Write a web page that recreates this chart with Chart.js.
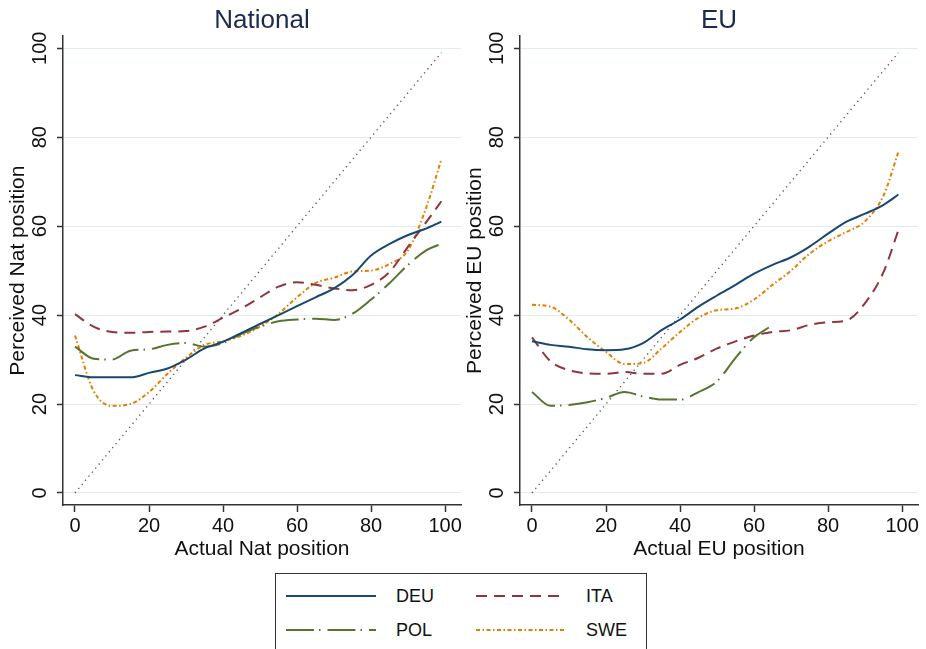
<!DOCTYPE html>
<html>
<head>
<meta charset="utf-8">
<script src="https://cdn.jsdelivr.net/npm/chart.js@4.4.1/dist/chart.umd.min.js"></script>
<style>
  body { margin: 0; background: #fff; width: 926px; height: 649px; overflow: hidden; position: relative;
         font-family: "Liberation Sans", Arial, sans-serif; }
  canvas.panel { position: absolute; top: 0; }
  #legend { position: absolute; left: 275px; top: 573px; width: 372px; height: 100px;
            border: 1px solid #333; box-sizing: border-box; }
  #legend svg { position: absolute; }
  #legend span { position: absolute; font-size: 18px; color: #111; line-height: 20px; }
</style>
</head>
<body>
<canvas id="natChart" class="panel" width="463" height="565" style="left:0"></canvas>
<canvas id="euChart" class="panel" width="463" height="565" style="left:457px"></canvas>
<div id="legend"></div>

<script>
// tick labels
const xTicks = [0, 20, 40, 60, 80, 100];
const yTicks = [0, 20, 40, 60, 80, 100];
const countries = ['DEU', 'ITA', 'POL', 'SWE'];

// National panel
const natX   = [0, 5, 10, 15, 20, 25, 30, 35, 40, 45, 50, 55, 60, 65, 70, 75, 80, 85, 90, 95, 99];
const natDEU = [26.5, 26, 26, 26, 27, 28, 30, 32.5, 34, 36, 38, 40, 42, 44, 46, 49, 53.4, 56, 58, 59.5, 61];
const natITA = [40.2, 37.4, 36.2, 36, 36.2, 36.3, 36.4, 37.4, 39.4, 41.5, 44, 46.4, 47.4, 46.8, 46, 45.6, 46.8, 49.7, 55.4, 61, 65.6];
const natPOL = [32.9, 30.2, 30, 32, 32.3, 33.3, 33.7, 32.9, 33.7, 35.8, 37.4, 38.6, 39, 39.2, 38.9, 40.3, 43.5, 47.2, 51.3, 54.6, 56];
const natSWE = [35.4, 23, 19.6, 20, 22.7, 26.8, 30.4, 33.3, 34.1, 35.4, 37.4, 40.3, 44, 47.2, 48.4, 49.8, 50, 51.5, 54.6, 64.4, 75];

// EU panel
const euX    = [0, 5, 10, 15, 20, 25, 30, 35, 40, 45, 50, 55, 60, 65, 70, 75, 80, 85, 90, 95, 99];
const euDEU  = [34.1, 33.3, 32.9, 32.3, 32.1, 32.3, 33.7, 36.6, 39, 41.9, 44.4, 46.8, 49.3, 51.3, 53, 55.4, 58.3, 61, 62.8, 64.8, 67.1];
const euITA  = [35, 29.6, 27.6, 26.9, 26.8, 27.2, 26.8, 26.8, 28.8, 30.4, 32.5, 34.1, 35.4, 36.2, 36.6, 37.8, 38.4, 38.8, 42.7, 49.7, 59.1];
const euPOLX = [0, 5, 10, 15, 20, 25, 30, 35, 40, 45, 50, 55, 60, 64];
const euPOL  = [22.7, 19.6, 19.8, 20.4, 21.4, 22.7, 21.7, 21, 21, 22.7, 25.1, 30.4, 35, 37.2];
const euSWE  = [42.3, 41.9, 39, 35, 31.7, 29, 29.2, 32.5, 36.2, 39.4, 41.1, 41.5, 43.5, 46.8, 50, 53.8, 56.6, 58.7, 61.1, 66.9, 76.7];

// 45 degree reference line
const diagX = [0, 99];

const lineStyles = {
    DEU: { color: '#1a476f', dash: [] },
    ITA: { color: '#90353b', dash: [11, 7] },
    POL: { color: '#55752f', dash: [28, 5, 1.5, 7] },
    SWE: { color: '#e37e00', dash: [4, 2.5, 1.5, 2.5] }
};

function toPoints(xs, ys) {
    return xs.map((x, i) => ({ x: x, y: ys[i] }));
}

function curve(name, xs, ys) {
    return {
        label: name,
        data: toPoints(xs, ys),
        borderColor: lineStyles[name].color,
        borderDash: lineStyles[name].dash,
        borderWidth: 2,
        pointRadius: 0,
        cubicInterpolationMode: 'monotone',
        fill: false
    };
}

function makePanel(id, title, xTitle, yTitle, series) {
    const datasets = series.map(s => curve(s[0], s[1], s[2]));
    datasets.push({
        label: 'diag',
        data: toPoints(diagX, diagX),
        borderColor: '#555',
        borderDash: [1.3, 4],
        borderWidth: 1.3,
        pointRadius: 0,
        fill: false
    });

    const axisColor = '#333';
    return new Chart(document.getElementById(id).getContext('2d'), {
        type: 'line',
        data: { datasets: datasets },
        options: {
            responsive: false,
            animation: false,
            layout: { padding: { left: 0, right: 2, top: 0, bottom: 0 } },
            plugins: {
                legend: { display: false },
                tooltip: { enabled: false },
                title: {
                    display: true,
                    text: title,
                    fullSize: false,
                    color: '#1b2a4e',
                    font: { family: 'Liberation Sans', size: 26, weight: 'normal' },
                    padding: { top: 5, bottom: 0 }
                }
            },
            scales: {
                x: {
                    type: 'linear',
                    min: -3.24,
                    max: 104.3,
                    afterBuildTicks: s => { s.ticks = xTicks.map(v => ({ value: v })); },
                    afterFit: s => { s.height = 60; s.paddingLeft = 0; s.paddingRight = 0; },
                    ticks: {
                        color: '#111',
                        padding: 2,
                        maxRotation: 0,
                        autoSkip: false,
                        font: { family: 'Liberation Sans', size: 20 }
                    },
                    grid: { drawOnChartArea: false, tickLength: 7, tickColor: axisColor, tickWidth: 1.5 },
                    border: { color: axisColor, width: 1.5 },
                    title: {
                        display: true,
                        text: xTitle,
                        color: '#111',
                        font: { family: 'Liberation Sans', size: 21 },
                        padding: { top: 0, bottom: 3 }
                    }
                },
                y: {
                    type: 'linear',
                    min: -2.7,
                    max: 102.7,
                    afterBuildTicks: s => { s.ticks = yTicks.map(v => ({ value: v })); },
                    afterFit: s => { s.width = 63; s.paddingTop = 0; s.paddingBottom = 0; },
                    ticks: {
                        color: '#111',
                        padding: 0,
                        minRotation: 90,
                        maxRotation: 90,
                        crossAlign: 'center',
                        font: { family: 'Liberation Sans', size: 20 }
                    },
                    grid: { color: '#e1ecec', lineWidth: 1, tickLength: 6, tickColor: axisColor, tickWidth: 1.5 },
                    border: { color: axisColor, width: 1.5 },
                    title: {
                        display: true,
                        text: yTitle,
                        color: '#111',
                        font: { family: 'Liberation Sans', size: 21 },
                        padding: { top: 6, bottom: 0 }
                    }
                }
            }
        }
    });
}

makePanel('natChart', 'National', 'Actual Nat position', 'Perceived Nat position', [
    ['DEU', natX, natDEU], ['ITA', natX, natITA], ['POL', natX, natPOL], ['SWE', natX, natSWE]
]);
makePanel('euChart', 'EU', 'Actual EU position', 'Perceived EU position', [
    ['DEU', euX, euDEU], ['ITA', euX, euITA], ['POL', euPOLX, euPOL], ['SWE', euX, euSWE]
]);

// legend box, two columns
const legend = document.getElementById('legend');
countries.forEach((name, i) => {
    const col = i % 2, row = Math.floor(i / 2);
    const lx = 10 + col * 190, ty = 22 + row * 34;
    const st = lineStyles[name];
    legend.insertAdjacentHTML('beforeend',
        '<svg width="90" height="4" style="left:' + lx + 'px;top:' + (ty - 2) + 'px">' +
        '<line x1="0" y1="2" x2="90" y2="2" stroke="' + st.color + '" stroke-width="2.2"' +
        (st.dash.length ? ' stroke-dasharray="' + st.dash.join(' ') + '"' : '') + '/></svg>' +
        '<span style="left:' + (lx + 110) + 'px;top:' + (ty - 10) + 'px">' + name + '</span>');
});
</script>
</body>
</html>
